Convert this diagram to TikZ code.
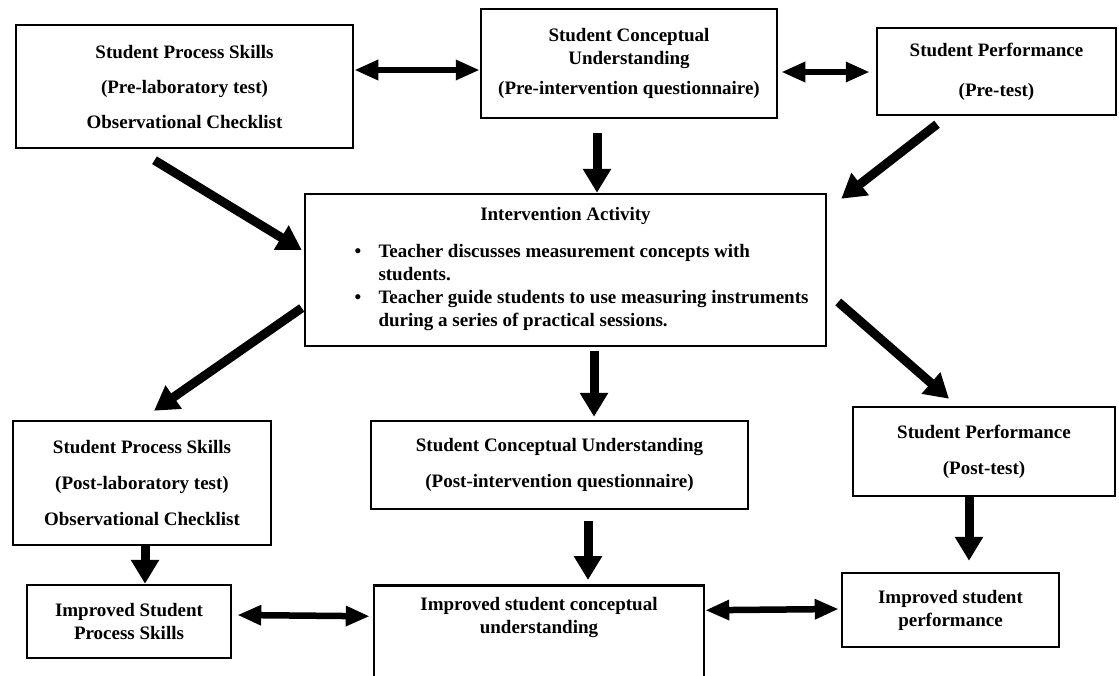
\documentclass[tikz,border=0pt]{standalone}
\usepackage{fontspec}
\setmainfont{Liberation Serif}
\usetikzlibrary{arrows.meta,positioning,calc}
\tikzset{
    block/.style = {draw, rectangle, line width=2.5pt, inner sep=0pt,
        align=center, font=\fontsize{19}{23}\selectfont\bfseries},
    arrow/.style = {draw, line width=9pt, -{Triangle[length=24pt,width=27pt]}},
    darrow/.style = {draw, line width=6.5pt,
        {Triangle[length=24pt,width=19pt]}-{Triangle[length=24pt,width=19pt]}}
}
\begin{document}
\begin{tikzpicture}[x=1pt,y=-1pt]
    \path[use as bounding box, fill=white] (0,0) rectangle (1119,675);
    % before the intervention
    \node [block, minimum width=337pt, minimum height=123pt] (preskill) at (184.5,86.5)
        {Student Process Skills\\[12pt](Pre-laboratory test)\\[12pt]Observational Checklist};
    \node [block, minimum width=296pt, minimum height=109pt] (preconc) at (629,63.5)
        {Student Conceptual\\Understanding\\[7pt](Pre-intervention questionnaire)};
    \node [block, minimum width=239pt, minimum height=87pt] (preperf) at (996.5,71.5)
        {Student Performance\\[17pt](Pre-test)};
    \draw [darrow] ([yshift=16.5pt]preskill.east) -- ([yshift=-6.5pt]preconc.west);
    \draw [darrow] ([xshift=3pt,yshift=-8.5pt]preconc.east) -- ([xshift=-6pt,yshift=-0.5pt]preperf.west);
    % intervention
    \node [block, minimum width=521pt, minimum height=152pt] (interv) at (565.5,270)
        {Intervention Activity\\[14pt]
        \begin{tabular}[t]{@{}p{56pt}@{}l@{}}
            \hspace*{32pt}\textbullet & Teacher discusses measurement concepts with\\
            & students.\\
            \hspace*{32pt}\textbullet & Teacher guide students to use measuring instruments\\
            & during a series of practical sessions.
        \end{tabular}};
    \draw [arrow] ([xshift=-30pt,yshift=-11pt]preskill.south) -- ([xshift=-2pt,yshift=20pt]interv.west);
    \draw [arrow] ([xshift=-32pt,yshift=-14pt]preconc.south) -- ([xshift=31.5pt]interv.north);
    \draw [arrow] ([xshift=-59.5pt,yshift=-8pt]preperf.south) -- ([xshift=14pt,yshift=-6pt]interv.north east);
    % after the intervention
    \node [block, minimum width=258pt, minimum height=124pt] (postskill) at (142,483)
        {Student Process Skills\\[13pt](Post-laboratory test)\\[13pt]Observational Checklist};
    \node [block, minimum width=377pt, minimum height=88pt] (postconc) at (559.5,465)
        {Student Conceptual Understanding\\[13pt](Post-intervention questionnaire)};
    \node [block, minimum width=262pt, minimum height=89pt] (postperf) at (984,451.5)
        {Student Performance\\[13pt](Post-test)};
    \draw [arrow] ([xshift=-2pt,yshift=-38pt]interv.west) -- ([xshift=12pt,yshift=9pt]postskill.north);
    \draw [arrow] ([xshift=28.5pt,yshift=-4pt]interv.south) -- ([xshift=34.5pt,yshift=3pt]postconc.north);
    \draw [arrow] ([xshift=11pt,yshift=-32pt]interv.east) -- ([xshift=-35pt,yshift=7pt]postperf.north);
    % outcomes
    \node [block, minimum width=204pt, minimum height=73pt] (impskill) at (129,621.5)
        {Improved Student\\Process Skills};
    \node [block, inner ysep=12pt, anchor=north] (impconc) at (539,584)
        {\parbox[c][112pt][t]{330pt}{\centering Improved student conceptual\\understanding}};
    \node [block, minimum width=217pt, minimum height=74pt] (impperf) at (950.5,610)
        {Improved student\\performance};
    \draw [arrow] ([xshift=3pt]postskill.south) -- ([xshift=16pt]impskill.north);
    \draw [arrow] ([xshift=28.5pt,yshift=-11pt]postconc.south) -- ([xshift=49pt,yshift=4pt]impconc.north);
    \draw [arrow] ([xshift=-15pt]postperf.south) -- ([xshift=18.5pt,yshift=11pt]impperf.north);
    \draw [darrow] ([xshift=5pt,yshift=6.5pt]impskill.east) -- ([xshift=-3pt,yshift=37pt]impconc.west);
    \draw [darrow] ([yshift=43pt]impconc.east) -- ([xshift=-2pt,yshift=1pt]impperf.west);
\end{tikzpicture}
\end{document}
